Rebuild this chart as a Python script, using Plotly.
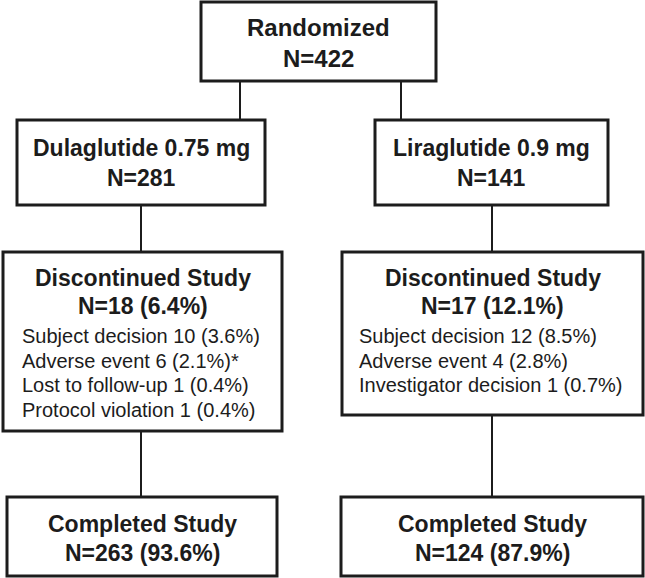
import plotly.graph_objects as go

# box texts
box_titles = [
    ["Randomized", "N=422"],
    ["Dulaglutide 0.75 mg", "N=281"],
    ["Liraglutide 0.9 mg", "N=141"],
    ["Discontinued Study", "N=18 (6.4%)"],
    ["Discontinued Study", "N=17 (12.1%)"],
    ["Completed Study", "N=263 (93.6%)"],
    ["Completed Study", "N=124 (87.9%)"],
]
left_reasons = [
    "Subject decision 10 (3.6%)",
    "Adverse event 6 (2.1%)*",
    "Lost to follow-up 1 (0.4%)",
    "Protocol violation 1 (0.4%)",
]
right_reasons = [
    "Subject decision 12 (8.5%)",
    "Adverse event 4 (2.8%)",
    "Investigator decision 1 (0.7%)",
]

# box geometry in page pixels: x0, x1, y0, y1, title line centres
boxes = [
    (201, 436, 2, 81, 27, 58),
    (17, 265, 120, 205, 148, 178),
    (375, 608, 120, 205, 148, 178),
    (3, 282, 252, 431, 278, 306),
    (342, 643, 252, 415, 278, 306),
    (7, 277, 497, 576, 524, 553),
    (341, 643, 497, 576, 524, 553),
]
links = [
    (240, 81, 240, 120),
    (401, 81, 401, 120),
    (141, 205, 141, 252),
    (492, 205, 492, 252),
    (141, 431, 141, 497),
    (492, 415, 492, 497),
]

ink = "#1c1c1c"
font_family = "Liberation Sans, Arial, sans-serif"
title_sizes = [24, 23, 23, 23, 23, 23, 23]

fig = go.Figure()

for x0, y0, x1, y1 in links:
    fig.add_shape(type="line", x0=x0, y0=y0, x1=x1, y1=y1,
                  line={"color": ink, "width": 2})

for (x0, x1, y0, y1, t1, t2), lines, size in zip(boxes, box_titles, title_sizes):
    fig.add_shape(type="rect", x0=x0, x1=x1, y0=y0, y1=y1,
                  line={"color": ink, "width": 3}, fillcolor="white")
    for text, yc in zip(lines, (t1, t2)):
        fig.add_annotation(x=(x0 + x1) / 2, y=yc, text=f"<b>{text}</b>",
                           showarrow=False, xanchor="center", yanchor="middle",
                           font={"family": font_family, "size": size, "color": ink})

for reasons, x_left in ((left_reasons, 20), (right_reasons, 357)):
    for i, text in enumerate(reasons):
        fig.add_annotation(x=x_left, y=336 + 24.5 * i, text=text,
                           showarrow=False, xanchor="left", yanchor="middle",
                           font={"family": font_family, "size": 20, "color": ink})

fig.update_xaxes(range=[0, 645], visible=False, fixedrange=True)
fig.update_yaxes(range=[578, 0], visible=False, fixedrange=True)
fig.update_layout(
    width=645, height=578,
    margin={"l": 0, "r": 0, "t": 0, "b": 0},
    plot_bgcolor="white", paper_bgcolor="white",
    showlegend=False,
)

fig.write_html("out.html", config={"displayModeBar": False},
               post_script="document.body.style.margin='0';")
